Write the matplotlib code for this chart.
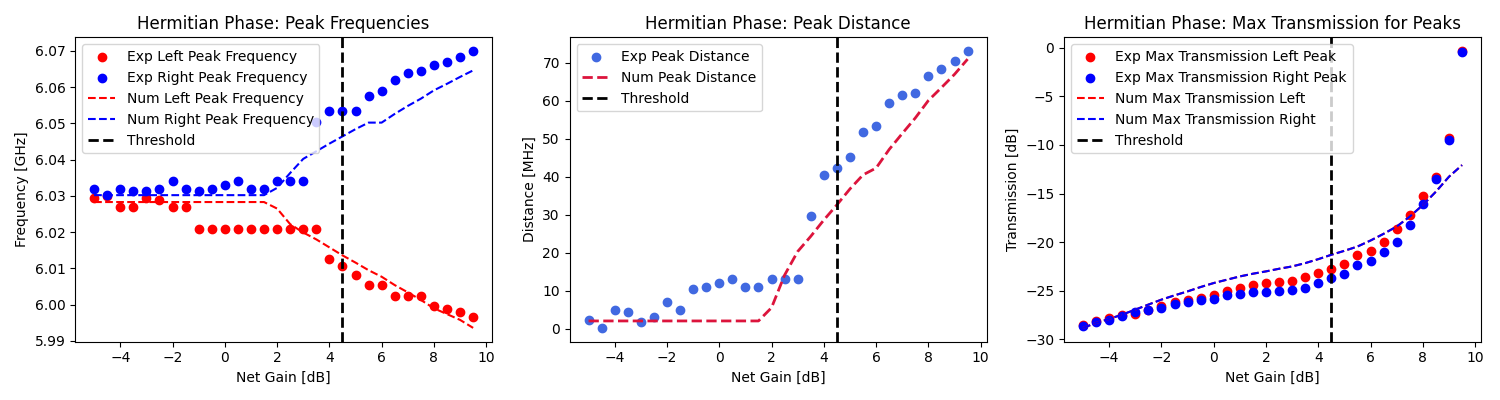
import numpy as np
import matplotlib
matplotlib.use("Agg")
import matplotlib.pyplot as plt

# net gain values (dB)
gain = np.arange(-5, 10, 0.5)
threshold = 4.5

# peak frequencies [GHz]
exp_left_freq = [6.0294, 6.0300, 6.0269, 6.0269, 6.0294, 6.0289, 6.0269, 6.0269,
                 6.0209, 6.0209, 6.0209, 6.0209, 6.0209, 6.0209, 6.0209, 6.0209,
                 6.0209, 6.0209, 6.0127, 6.0108, 6.0081, 6.0054, 6.0054, 6.0023,
                 6.0023, 6.0023, 5.9997, 5.9988, 5.9981, 5.9966]
exp_right_freq = [6.0318, 6.0302, 6.0318, 6.0313, 6.0313, 6.0318, 6.0340, 6.0318,
                  6.0313, 6.0318, 6.0329, 6.0340, 6.0318, 6.0318, 6.0340, 6.0340,
                  6.0340, 6.0505, 6.0533, 6.0533, 6.0533, 6.0575, 6.0589, 6.0619,
                  6.0639, 6.0644, 6.0662, 6.0669, 6.0684, 6.0699]
num_left_freq = [6.0283] * 14 + [6.0265, 6.0222, 6.0199, 6.0180, 6.0158, 6.0136,
                                 6.0116, 6.0095, 6.0077, 6.0054, 6.0034, 6.0013,
                                 5.9990, 5.9974, 5.9958, 5.9936]
num_right_freq = [6.0302] * 14 + [6.0322, 6.0363, 6.0402, 6.0423, 6.0444, 6.0464,
                                  6.0484, 6.0502, 6.0502, 6.0526, 6.0548, 6.0568,
                                  6.0591, 6.0609, 6.0628, 6.0646]

# peak distance [MHz]
exp_distance = [2.35, 0.17, 4.87, 4.35, 1.74, 3.13, 6.96, 4.87, 10.4, 10.9,
                11.9, 13.0, 10.9, 10.9, 13.0, 13.0, 13.0, 29.7, 40.4, 42.4,
                45.1, 51.8, 53.5, 59.5, 61.5, 62.1, 66.5, 68.3, 70.4, 73.1]
num_distance = [2.0] * 14 + [5.5, 14.1, 20.3, 24.3, 28.6, 32.6, 36.8, 40.5,
                             42.3, 47.2, 51.4, 55.5, 60.1, 63.5, 67.0, 71.0]

# max transmission [dB]
exp_trans_left = [-28.53, -28.15, -27.85, -27.54, -27.37, -26.96, -26.55, -26.21,
                  -26.00, -25.73, -25.42, -25.08, -24.77, -24.43, -24.26, -24.15,
                  -23.98, -23.64, -23.23, -22.75, -22.27, -21.31, -20.97, -20.01,
                  -18.68, -17.20, -15.22, -13.27, -9.30, -0.34]
exp_trans_right = [-28.60, -28.26, -27.98, -27.57, -27.16, -27.03, -26.75, -26.41,
                   -26.21, -25.96, -25.83, -25.49, -25.39, -25.18, -25.11, -25.00,
                   -24.90, -24.70, -24.22, -23.74, -23.26, -22.33, -21.92, -21.04,
                   -19.97, -18.27, -16.07, -13.55, -9.50, -0.47]
num_trans_left = [-28.84, -28.33, -27.92, -27.47, -26.96, -26.44, -25.93, -25.49,
                  -25.08, -24.63, -24.22, -23.88, -23.54, -23.26, -23.02, -22.75,
                  -22.51, -22.17, -21.76, -21.31, -20.90, -20.46, -19.84, -19.15,
                  -18.40, -17.38, -16.18, -14.81, -13.27, -12.07]
num_trans_right = num_trans_left

fig, axes = plt.subplots(1, 3, figsize=(15, 4), dpi=100)

ax = axes[0]
ax.scatter(gain, exp_left_freq, color="red", label="Exp Left Peak Frequency")
ax.scatter(gain, exp_right_freq, color="blue", label="Exp Right Peak Frequency")
ax.plot(gain, num_left_freq, "r--", label="Num Left Peak Frequency")
ax.plot(gain, num_right_freq, "b--", label="Num Right Peak Frequency")
ax.axvline(threshold, color="black", linestyle="--", linewidth=2, label="Threshold")
ax.set_title("Hermitian Phase: Peak Frequencies")
ax.set_xlabel("Net Gain [dB]")
ax.set_ylabel("Frequency [GHz]")
ax.legend(loc="upper left")

ax = axes[1]
ax.scatter(gain, exp_distance, color="royalblue", label="Exp Peak Distance")
ax.plot(gain, num_distance, color="crimson", linestyle="--", linewidth=2,
        label="Num Peak Distance")
ax.axvline(threshold, color="black", linestyle="--", linewidth=2, label="Threshold")
ax.set_title("Hermitian Phase: Peak Distance")
ax.set_xlabel("Net Gain [dB]")
ax.set_ylabel("Distance [MHz]")
ax.legend(loc="upper left")

ax = axes[2]
ax.scatter(gain, exp_trans_left, color="red", label="Exp Max Transmission Left Peak")
ax.scatter(gain, exp_trans_right, color="blue", label="Exp Max Transmission Right Peak")
ax.plot(gain, num_trans_left, "r--", label="Num Max Transmission Left")
ax.plot(gain, num_trans_right, "b--", label="Num Max Transmission Right")
ax.axvline(threshold, color="black", linestyle="--", linewidth=2, label="Threshold")
ax.set_title("Hermitian Phase: Max Transmission for Peaks")
ax.set_xlabel("Net Gain [dB]")
ax.set_ylabel("Transmission [dB]")
ax.legend(loc="upper left")

plt.tight_layout()
plt.savefig("out.png")
